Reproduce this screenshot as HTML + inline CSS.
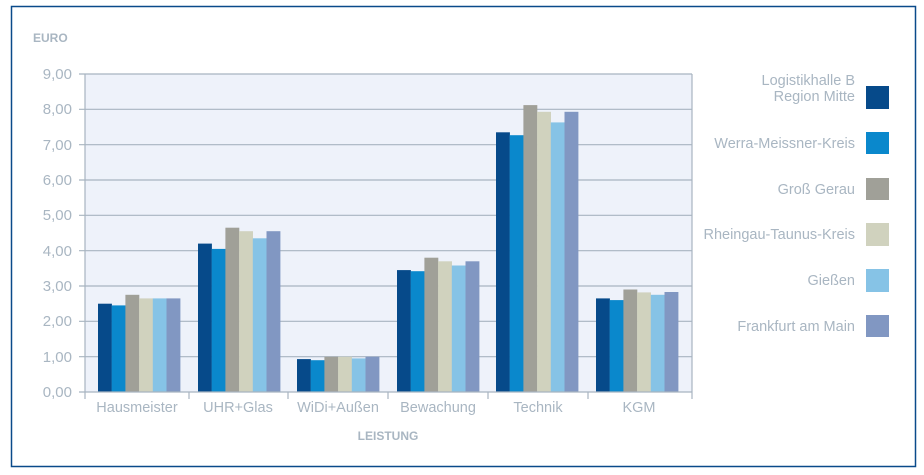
<!DOCTYPE html>
<html><head><style>body{margin:0;background:#fff}svg{display:block}text{font-family:"Liberation Sans",sans-serif;fill:#a9b6c2}</style></head><body>
<svg width="924" height="475" xmlns="http://www.w3.org/2000/svg">
<rect x="11.5" y="6.5" width="904" height="460" fill="#fff" stroke="#0a4a8a" stroke-width="1.5"/>
<rect x="85" y="74" width="607" height="318" fill="#eef2fa"/>
<g stroke="#a8b4c0" stroke-width="1.2">
<line x1="79" y1="74" x2="692" y2="74"/><line x1="79" y1="109.3" x2="692" y2="109.3"/><line x1="79" y1="144.7" x2="692" y2="144.7"/><line x1="79" y1="180" x2="692" y2="180"/><line x1="79" y1="215.3" x2="692" y2="215.3"/><line x1="79" y1="250.7" x2="692" y2="250.7"/><line x1="79" y1="286" x2="692" y2="286"/><line x1="79" y1="321.3" x2="692" y2="321.3"/><line x1="79" y1="356.7" x2="692" y2="356.7"/>
<line x1="85" y1="74" x2="85" y2="392"/><line x1="692" y1="74" x2="692" y2="392"/>
</g>
<g>
<rect x="98" y="303.7" width="13.9" height="88.3" fill="#064a8a"/><rect x="111.7" y="305.4" width="13.9" height="86.6" fill="#0a88cc"/><rect x="125.4" y="294.8" width="13.9" height="97.2" fill="#a0a098"/><rect x="139.1" y="298.4" width="13.9" height="93.6" fill="#d0d2be"/><rect x="152.8" y="298.4" width="13.9" height="93.6" fill="#86c3e6"/><rect x="166.5" y="298.4" width="13.9" height="93.6" fill="#8197c2"/>
<rect x="198" y="243.6" width="13.9" height="148.4" fill="#064a8a"/><rect x="211.7" y="248.9" width="13.9" height="143.1" fill="#0a88cc"/><rect x="225.4" y="227.7" width="13.9" height="164.3" fill="#a0a098"/><rect x="239.1" y="231.2" width="13.9" height="160.8" fill="#d0d2be"/><rect x="252.8" y="238.3" width="13.9" height="153.7" fill="#86c3e6"/><rect x="266.5" y="231.2" width="13.9" height="160.8" fill="#8197c2"/>
<rect x="297" y="359.1" width="13.9" height="32.9" fill="#064a8a"/><rect x="310.7" y="360.2" width="13.9" height="31.8" fill="#0a88cc"/><rect x="324.4" y="356.7" width="13.9" height="35.3" fill="#a0a098"/><rect x="338.1" y="356.7" width="13.9" height="35.3" fill="#d0d2be"/><rect x="351.8" y="358.4" width="13.9" height="33.6" fill="#86c3e6"/><rect x="365.5" y="356.7" width="13.9" height="35.3" fill="#8197c2"/>
<rect x="397" y="270.1" width="13.9" height="121.9" fill="#064a8a"/><rect x="410.7" y="271.2" width="13.9" height="120.8" fill="#0a88cc"/><rect x="424.4" y="257.7" width="13.9" height="134.3" fill="#a0a098"/><rect x="438.1" y="261.3" width="13.9" height="130.7" fill="#d0d2be"/><rect x="451.8" y="265.5" width="13.9" height="126.5" fill="#86c3e6"/><rect x="465.5" y="261.3" width="13.9" height="130.7" fill="#8197c2"/>
<rect x="496" y="132.3" width="13.9" height="259.7" fill="#064a8a"/><rect x="509.7" y="135.2" width="13.9" height="256.8" fill="#0a88cc"/><rect x="523.4" y="105.1" width="13.9" height="286.9" fill="#a0a098"/><rect x="537.1" y="111.8" width="13.9" height="280.2" fill="#d0d2be"/><rect x="550.8" y="122.4" width="13.9" height="269.6" fill="#86c3e6"/><rect x="564.5" y="111.8" width="13.9" height="280.2" fill="#8197c2"/>
<rect x="596" y="298.4" width="13.9" height="93.6" fill="#064a8a"/><rect x="609.7" y="300.1" width="13.9" height="91.9" fill="#0a88cc"/><rect x="623.4" y="289.5" width="13.9" height="102.5" fill="#a0a098"/><rect x="637.1" y="292.4" width="13.9" height="99.6" fill="#d0d2be"/><rect x="650.8" y="294.8" width="13.9" height="97.2" fill="#86c3e6"/><rect x="664.5" y="292" width="13.9" height="100" fill="#8197c2"/>
</g>
<line x1="79" y1="392" x2="692" y2="392" stroke="#a8b4c0" stroke-width="1.2"/>
<g stroke="#a8b4c0" stroke-width="1.2">
<line x1="85" y1="392" x2="85" y2="399"/><line x1="189" y1="392" x2="189" y2="399"/><line x1="288" y1="392" x2="288" y2="399"/><line x1="388" y1="392" x2="388" y2="399"/><line x1="488" y1="392" x2="488" y2="399"/><line x1="588" y1="392" x2="588" y2="399"/><line x1="692" y1="392" x2="692" y2="399"/>
</g>
<g font-size="15" text-anchor="end">
<text x="72" y="79">9,00</text><text x="72" y="114">8,00</text><text x="72" y="150">7,00</text><text x="72" y="185">6,00</text><text x="72" y="220">5,00</text><text x="72" y="256">4,00</text><text x="72" y="291">3,00</text><text x="72" y="326">2,00</text><text x="72" y="362">1,00</text><text x="72" y="397">0,00</text>
</g>
<text x="33" y="42" font-size="12" font-weight="bold">EURO</text>
<text x="388" y="440" font-size="12" font-weight="bold" text-anchor="middle">LEISTUNG</text>
<g font-size="14.5" text-anchor="middle">
<text x="137" y="412">Hausmeister</text><text x="238" y="412">UHR+Glas</text><text x="338" y="412">WiDi+Außen</text><text x="438" y="412">Bewachung</text><text x="538" y="412">Technik</text><text x="639" y="412">KGM</text>
</g>
<g font-size="14.5" text-anchor="end">
<text x="855" y="85">Logistikhalle B</text><text x="855" y="101">Region Mitte</text>
<text x="855" y="148">Werra-Meissner-Kreis</text>
<text x="855" y="194">Groß Gerau</text>
<text x="855" y="239">Rheingau-Taunus-Kreis</text>
<text x="855" y="285">Gießen</text>
<text x="855" y="331">Frankfurt am Main</text>
</g>
<rect x="866" y="86" width="23" height="23" fill="#064a8a"/>
<rect x="866" y="132" width="23" height="22" fill="#0a88cc"/>
<rect x="866" y="178" width="23" height="22" fill="#a0a098"/>
<rect x="866" y="223" width="23" height="23" fill="#d0d2be"/>
<rect x="866" y="269" width="23" height="23" fill="#86c3e6"/>
<rect x="866" y="315" width="23" height="22" fill="#8197c2"/>
</svg>
</body></html>
